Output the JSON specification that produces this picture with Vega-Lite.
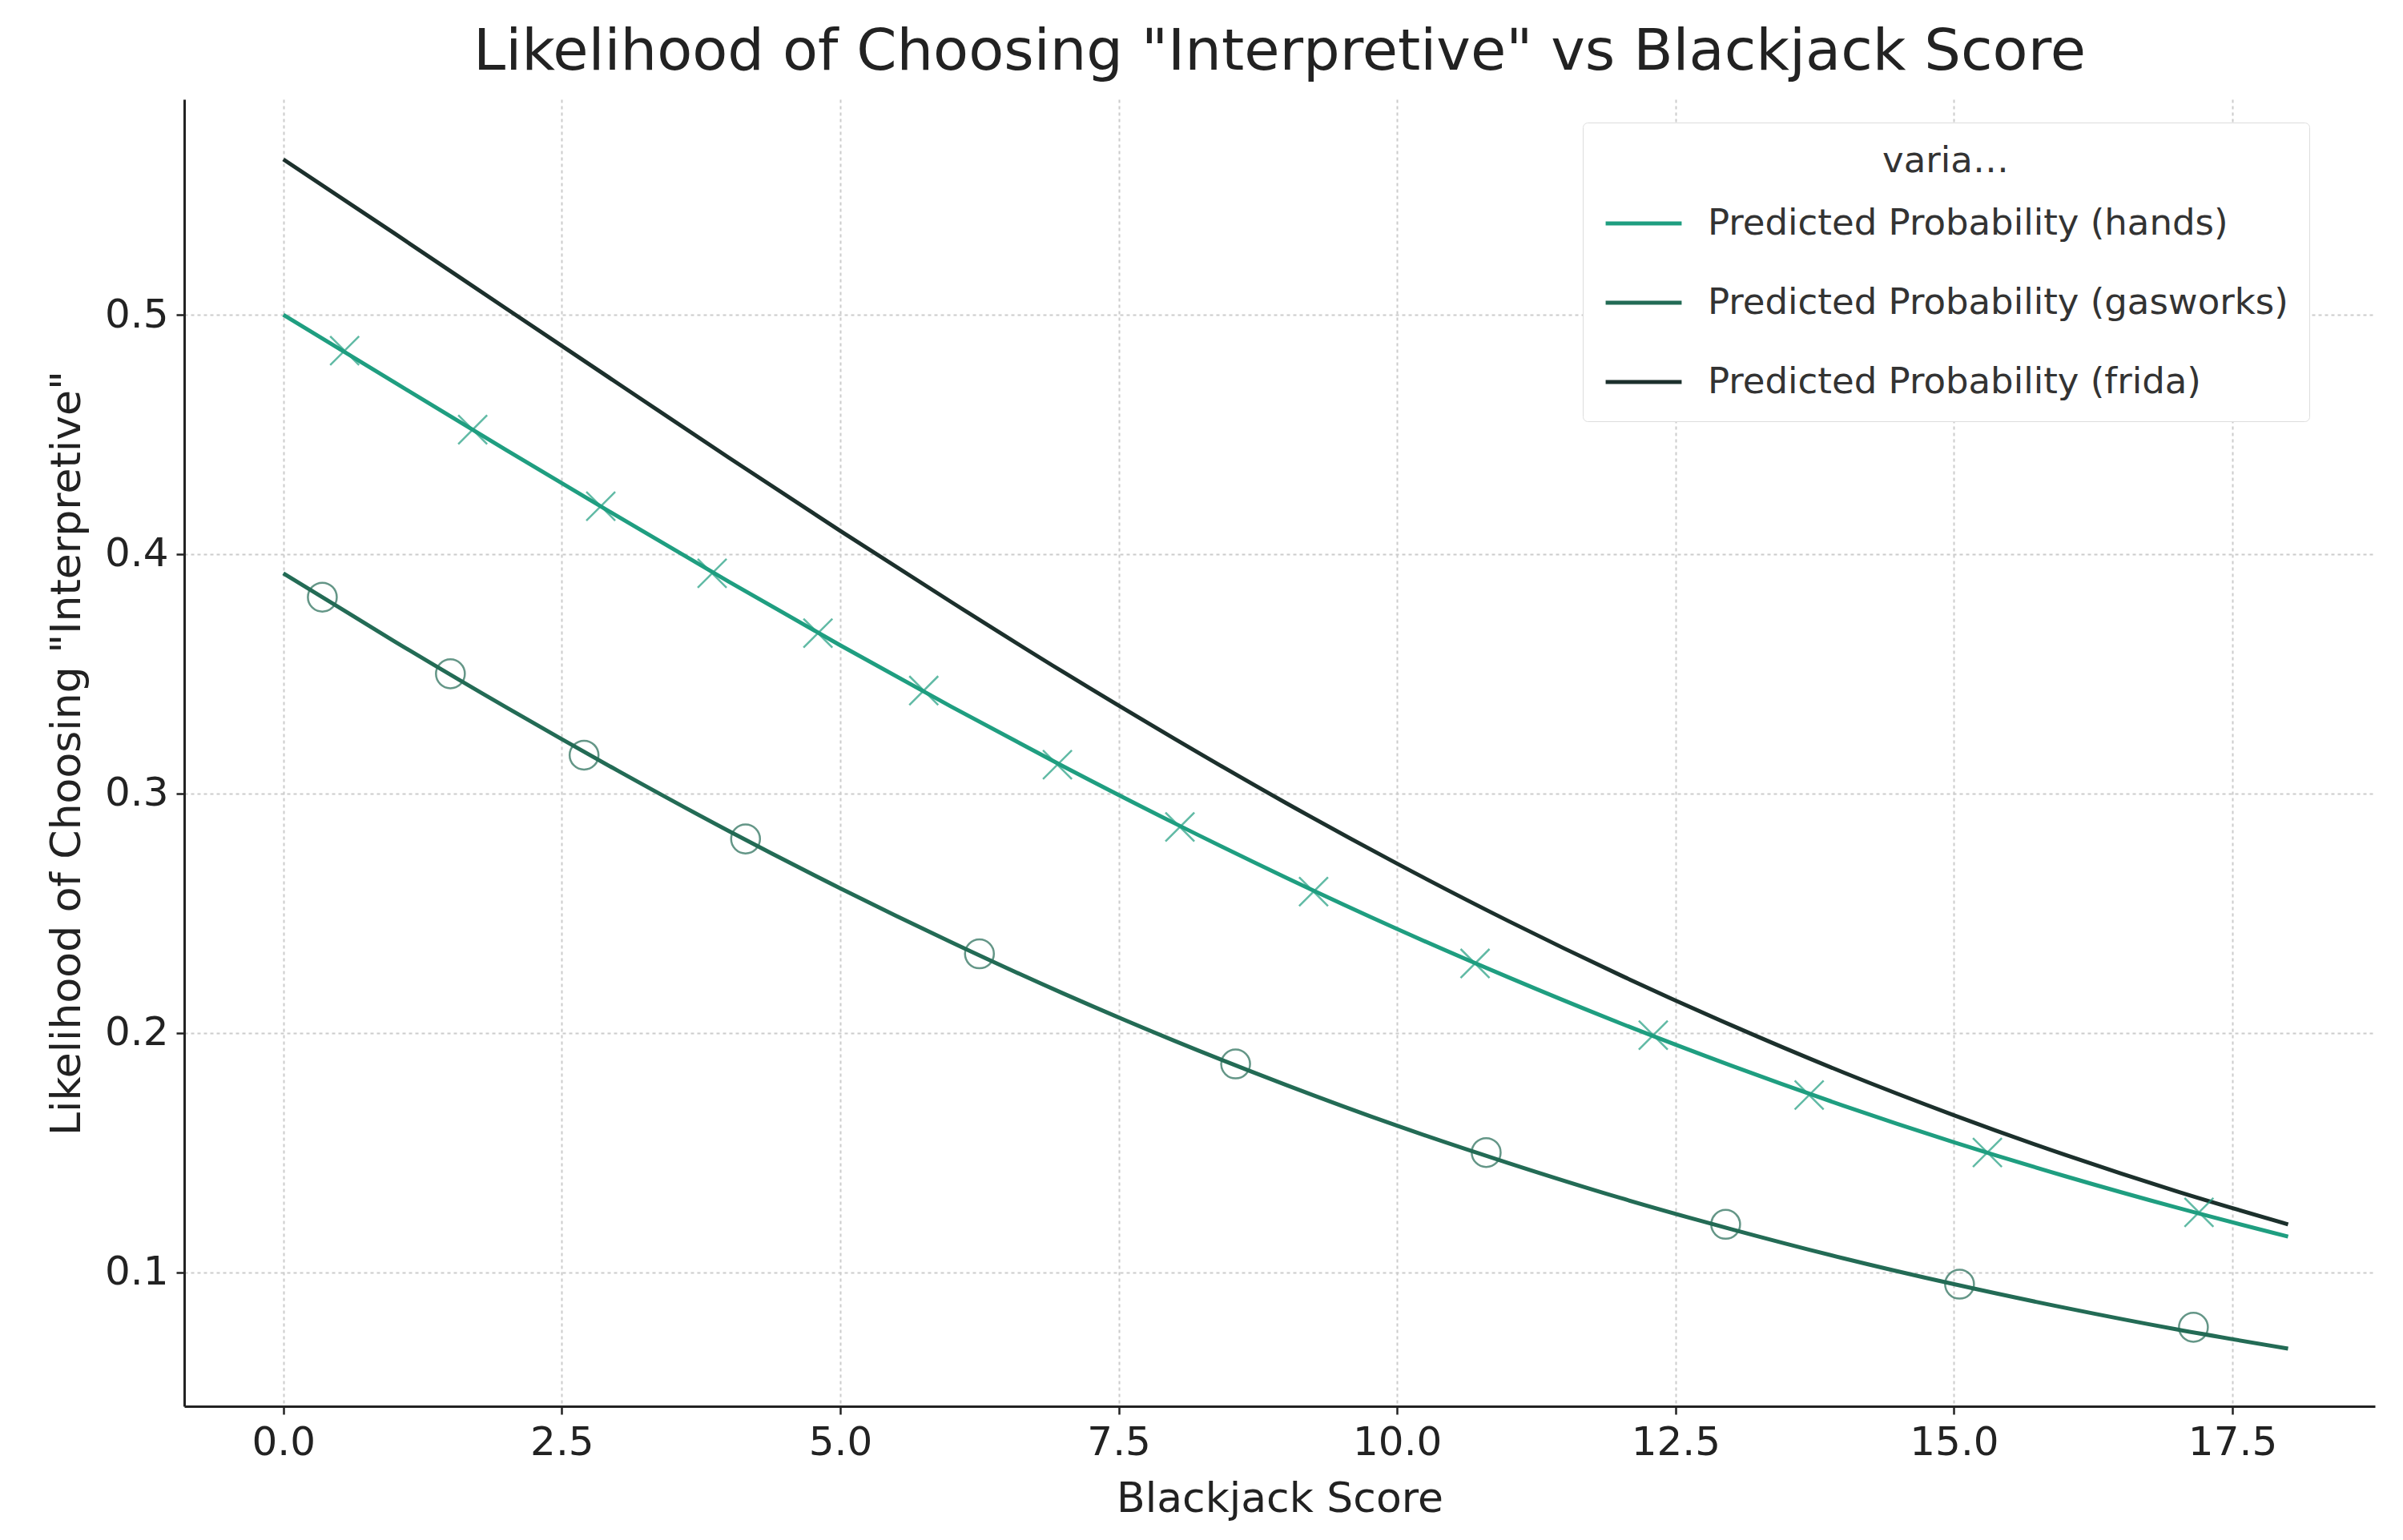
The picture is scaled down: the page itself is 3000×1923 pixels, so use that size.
{
"$schema":"https://vega.github.io/schema/vega-lite/v6.json",
"autosize":"none",
"width":2735,"height":1632,
"padding":{"left":230,"top":124,"right":35,"bottom":167},
"background":"white",
"config":{"font":"DejaVu Sans","view":{"stroke":null}},
"title":{"text":"Likelihood of Choosing \"Interpretive\" vs Blackjack Score","fontSize":72,"fontWeight":"normal","color":"#222","offset":22,"anchor":"middle"},
"datasets":{
"curves":[
{"x":0,"hands":0.5,"gasworks":0.392,"frida":0.5649},
{"x":1,"hands":0.4717,"gasworks":0.3635,"frida":0.5339},
{"x":2,"hands":0.4435,"gasworks":0.336,"frida":0.5026},
{"x":3,"hands":0.4158,"gasworks":0.3096,"frida":0.4714},
{"x":4,"hands":0.3885,"gasworks":0.2843,"frida":0.4403},
{"x":5,"hands":0.3619,"gasworks":0.2604,"frida":0.4097},
{"x":6,"hands":0.3362,"gasworks":0.2378,"frida":0.3799},
{"x":7,"hands":0.3114,"gasworks":0.2165,"frida":0.3508},
{"x":8,"hands":0.2876,"gasworks":0.1967,"frida":0.3229},
{"x":9,"hands":0.2649,"gasworks":0.1783,"frida":0.2961},
{"x":10,"hands":0.2434,"gasworks":0.1612,"frida":0.2707},
{"x":11,"hands":0.2232,"gasworks":0.1456,"frida":0.2467},
{"x":12,"hands":0.2041,"gasworks":0.1311,"frida":0.2242},
{"x":13,"hands":0.1863,"gasworks":0.118,"frida":0.2032},
{"x":14,"hands":0.1697,"gasworks":0.1059,"frida":0.1836},
{"x":15,"hands":0.1543,"gasworks":0.095,"frida":0.1656},
{"x":16,"hands":0.1401,"gasworks":0.0851,"frida":0.149},
{"x":17,"hands":0.127,"gasworks":0.0761,"frida":0.1338},
{"x":18,"hands":0.1149,"gasworks":0.0681,"frida":0.12}
],
"hmark":[
{"x":0.55,"y":0.485},{"x":1.7,"y":0.452},{"x":2.85,"y":0.42},{"x":3.85,"y":0.392},{"x":4.8,"y":0.367},{"x":5.75,"y":0.343},{"x":6.95,"y":0.312},{"x":8.05,"y":0.286},{"x":9.25,"y":0.259},{"x":10.7,"y":0.229},{"x":12.3,"y":0.199},{"x":13.7,"y":0.174},{"x":15.3,"y":0.15},{"x":17.2,"y":0.125}
],
"gmark":[
{"x":0.35,"y":0.382},{"x":1.5,"y":0.35},{"x":2.7,"y":0.316},{"x":4.15,"y":0.281},{"x":6.25,"y":0.233},{"x":8.55,"y":0.187},{"x":10.8,"y":0.15},{"x":12.95,"y":0.12},{"x":15.05,"y":0.095},{"x":17.15,"y":0.077}
]
},
"layer":[
{"data":{"name":"curves"},
"transform":[{"fold":["hands","gasworks","frida"],"as":["k","y"]},
{"lookup":"k","from":{"data":{"values":[{"k":"hands","variable":"Predicted Probability (hands)","o":0},{"k":"gasworks","variable":"Predicted Probability (gasworks)","o":1},{"k":"frida","variable":"Predicted Probability (frida)","o":2}]},"key":"k","fields":["variable","o"]}}],
"mark":{"type":"line","strokeWidth":5,"interpolate":"monotone"},
"encoding":{
"x":{"field":"x","type":"quantitative","scale":{"domain":[-0.89,18.78],"nice":false,"zero":false},
"axis":{"title":"Blackjack Score","values":[0,2.5,5,7.5,10,12.5,15,17.5],"format":".1f","labelFontSize":50,"titleFontSize":52,"titleFontWeight":"normal","labelColor":"#222","titleColor":"#222","domainColor":"#222","domainWidth":3,"tickColor":"#222","tickWidth":2.5,"tickSize":10,"labelPadding":10,"titlePadding":20,"gridColor":"#ccc","gridDash":[4,4],"gridWidth":2}},
"y":{"field":"y","type":"quantitative","scale":{"domain":[0.044,0.59],"nice":false,"zero":false},
"axis":{"title":"Likelihood of Choosing \"Interpretive\"","values":[0.1,0.2,0.3,0.4,0.5],"format":".1f","labelFontSize":50,"titleFontSize":52,"titleFontWeight":"normal","labelColor":"#222","titleColor":"#222","domainColor":"#222","domainWidth":3,"tickColor":"#222","tickWidth":2.5,"tickSize":10,"labelPadding":10,"titlePadding":20,"gridColor":"#ccc","gridDash":[4,4],"gridWidth":2}},
"color":{"field":"variable","type":"nominal","sort":["Predicted Probability (hands)","Predicted Probability (gasworks)","Predicted Probability (frida)"],
"scale":{"domain":["Predicted Probability (hands)","Predicted Probability (gasworks)","Predicted Probability (frida)"],"range":["#1f9e80","#236b55","#1c302c"]},
"legend":{"orient":"none","legendX":1746,"legendY":29,"title":"variable","titleFontSize":45,"titleFontWeight":"normal","titleAnchor":"middle","titleColor":"#333","labelFontSize":45,"labelColor":"#333","labelOffset":30,"symbolType":"stroke","symbolStrokeWidth":5,"symbolSize":9000,"rowPadding":26,"padding":26,"fillColor":"white","strokeColor":"#ddd","cornerRadius":6,"labelLimit":1000}},
"order":{"field":"o"}}},
{"data":{"name":"hmark"},"mark":{"type":"point","shape":"M-1,-1L1,1M-1,1L1,-1","filled":false,"size":1300,"strokeWidth":2.5,"color":"#1f9e80"},
"encoding":{"x":{"field":"x","type":"quantitative"},"y":{"field":"y","type":"quantitative"}}},
{"data":{"name":"gmark"},"mark":{"type":"point","shape":"circle","filled":false,"size":1300,"strokeWidth":2.5,"color":"#236b55"},
"encoding":{"x":{"field":"x","type":"quantitative"},"y":{"field":"y","type":"quantitative"}}}
]
}
